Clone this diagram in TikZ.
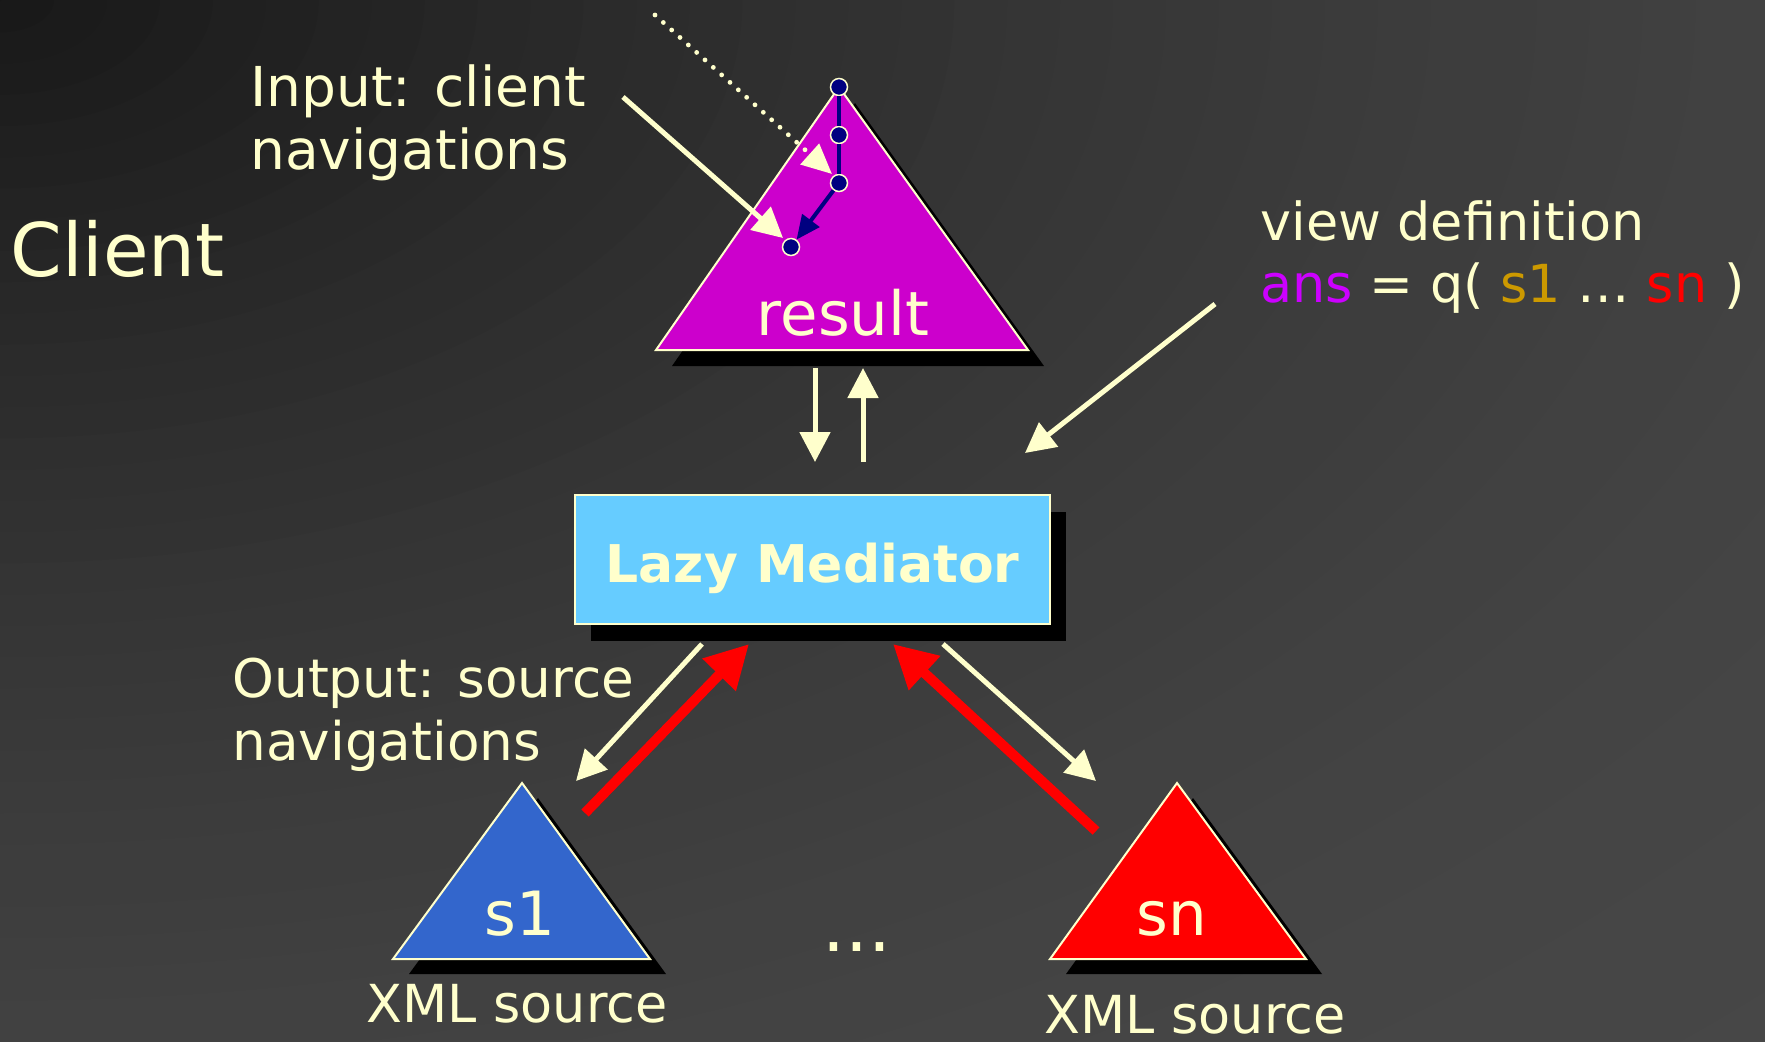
\documentclass[tikz,border=0pt]{standalone}
\usepackage{fontspec}
\setmainfont{DejaVu Sans}
\usetikzlibrary{arrows.meta,shadows}

\definecolor{cream}{HTML}{FFFFCC}
\definecolor{resfill}{HTML}{CC00CC}
\definecolor{srcblue}{HTML}{3366CC}
\definecolor{srcred}{HTML}{FF0000}
\definecolor{medfill}{HTML}{66CCFF}
\definecolor{navydot}{HTML}{000080}
\definecolor{ansviolet}{HTML}{CC00FF}
\definecolor{sgold}{HTML}{CC9900}

\begin{document}
\begin{tikzpicture}[x=0.5pt,y=-0.5pt,
  txt/.style={text=cream, inner sep=0pt, anchor=base west},
  midtxt/.style={text=cream, inner sep=0pt, anchor=base},
  big/.style={font=\fontsize{37pt}{44pt}\selectfont},
  note/.style={font=\fontsize{27.5pt}{33pt}\selectfont},
  notesm/.style={font=\fontsize{26.6pt}{32pt}\selectfont},
  small/.style={font=\fontsize{26.2pt}{31pt}\selectfont},
  trilabel/.style={font=\fontsize{30.5pt}{36pt}\selectfont},
  tri/.style={draw=cream, line width=1pt, line join=miter},
  shadowfill/.style={fill=black},
  carrow/.style={draw=cream, line width=2.5pt, -{Triangle[length=15pt,width=15pt]}},
  rarrow/.style={draw=srcred, line width=5pt, -{Triangle[length=21.5pt,width=22pt]}},
  dotarrow/.style={draw=cream, line width=2.4pt, line cap=round, dash pattern=on 0pt off 5.6pt,
                   -{Triangle[length=15pt,width=13.5pt]}},
  navyarrow/.style={draw=navydot, line width=2pt, -{Triangle[length=12pt,width=10.5pt]}},
  navyline/.style={draw=navydot, line width=2pt},
  treedot/.style={circle, fill=navydot, draw=cream, line width=0.75pt, minimum size=8.5pt, inner sep=0pt},
  medbox/.style={rectangle, fill=medfill, draw=cream, line width=1pt,
                 minimum width=237.5pt, minimum height=64.5pt, inner sep=0pt,
                 text height=22.5pt, text depth=0pt, text=cream,
                 font=\bfseries\fontsize{26pt}{31pt}\selectfont,
                 drop shadow={shadow xshift=8pt, shadow yshift=-8.5pt, fill=black, opacity=1}}
]
\useasboundingbox (0,0) rectangle (1765,1041);

% backdrop: grey rings around the top-left corner, lightening outwards
\begin{scope}
  \clip (0,0) rectangle (1765,1041);
  \foreach \k in {72,70.5,...,0} {
    \pgfmathsetmacro\lev{100*(0.09+0.0048*\k-0.000027*\k*\k)}
    \fill[white!\lev!black] (0,0) ellipse ({\k*35.3+1} and {\k*20.82+1});
  }
\end{scope}

% ---- triangles: result (client side) and the two sources ----
\coordinate (rT) at (839,87);   \coordinate (rL) at (656,350);  \coordinate (rR) at (1028,350);
\coordinate (aT) at (522,783);  \coordinate (aL) at (393,959);  \coordinate (aR) at (650,959);
\coordinate (bT) at (1177,783); \coordinate (bL) at (1050,959); \coordinate (bR) at (1306,959);

\fill[shadowfill] ([shift={(16,16)}]rT) -- ([shift={(16,16)}]rL) -- ([shift={(16,16)}]rR) -- cycle;
\fill[shadowfill] ([shift={(16,15)}]aT) -- ([shift={(16,15)}]aL) -- ([shift={(16,15)}]aR) -- cycle;
\fill[shadowfill] ([shift={(16,15)}]bT) -- ([shift={(16,15)}]bL) -- ([shift={(16,15)}]bR) -- cycle;

\filldraw[tri, fill=resfill] (rT) -- (rL) -- (rR) -- cycle;
\filldraw[tri, fill=srcblue] (aT) -- (aL) -- (aR) -- cycle;
\filldraw[tri, fill=srcred]  (bT) -- (bL) -- (bR) -- cycle;

\node[midtxt, trilabel] (result) at (843,335) {result};
\node[midtxt, trilabel] (s1) at (520,935) {s1};
\node[midtxt, trilabel] (sn) at (1172,935) {sn};

% ---- texts ----
\node[txt, big] (client) at (10,276) {Client};
\node[txt, note] (in1) at (250,106) {Input: client};
\node[txt, note] (in2) at (250,169) {navigations};
\node[txt, notesm] (out1) at (232,697) {Output: source};
\node[txt, notesm] (out2) at (232,760) {navigations};
\node[txt, small] (vd1) at (1260,240) {view definition};
\node[txt, small] (vd2) at (1260,302)
  {\textcolor{ansviolet}{ans} = q( \textcolor{sgold}{s1} … \textcolor{srcred}{sn} )};
\node[midtxt, small] (xa) at (517,1022) {XML source};
\node[midtxt, small] (xb) at (1195,1033) {XML source};
\node[midtxt, font=\fontsize{36pt}{40pt}\selectfont] (dots) at (857,951) {...};

% ---- arrows between result and mediator, and from the view definition ----
\coordinate (dnA) at (815,368); \coordinate (dnB) at (815,462);
\coordinate (upA) at (863,462); \coordinate (upB) at (863,368);
\coordinate (vdA) at (1215,304); \coordinate (vdB) at (1025,453);
\draw[carrow] (dnA) -- (dnB);
\draw[carrow] (upA) -- (upB);
\draw[carrow] (vdA) -- (vdB);

% ---- arrows between mediator and sources ----
\coordinate (caA) at (702,644); \coordinate (caB) at (576,781);
\coordinate (raA) at (585,813); \coordinate (raB) at (749,644);
\coordinate (rbA) at (1096,831); \coordinate (rbB) at (893,644);
\coordinate (cbA) at (943,644); \coordinate (cbB) at (1096,781);
\draw[carrow] (caA) -- (caB);
\draw[rarrow] (raA) -- (raB);
\draw[rarrow] (rbA) -- (rbB);
\draw[carrow] (cbA) -- (cbB);

% ---- mediator ----
\node[medbox] (med) at (812.5,559.5) {Lazy Mediator};

% ---- navigation inside the result tree ----
\coordinate (inA) at (623,97);  \coordinate (inB) at (783,238);
\coordinate (dtA) at (655,15);  \coordinate (dtB) at (832,174);
\draw[carrow] (inA) -- (inB);
\draw[dotarrow] (dtA) -- (dtB);

\node[treedot] (d1) at (839,87) {};
\node[treedot] (d2) at (839,135) {};
\node[treedot] (d3) at (839,183) {};
\node[treedot] (d4) at (791,247) {};
\draw[navyline] (d1) -- (d2);
\draw[navyline] (d2) -- (d3);
\draw[navyarrow] (d3) -- (d4);
\end{tikzpicture}
\end{document}
